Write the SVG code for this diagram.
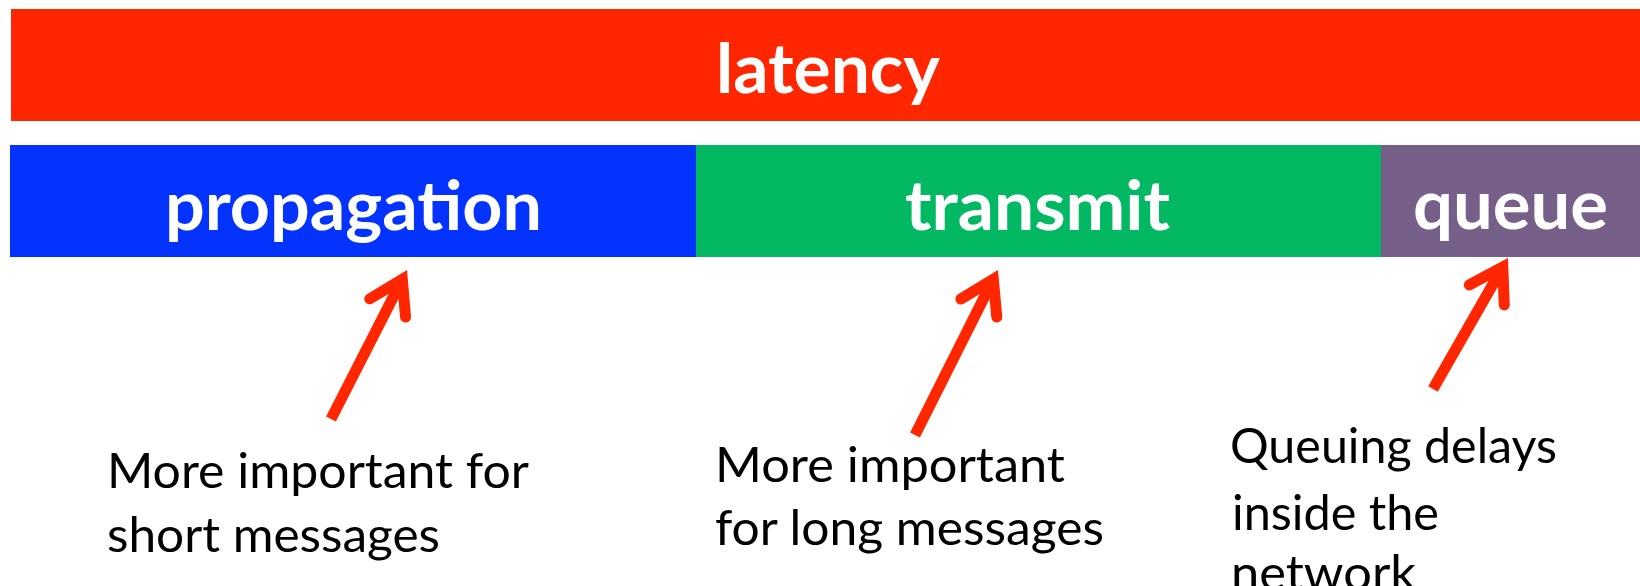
<svg xmlns="http://www.w3.org/2000/svg" width="1640" height="586" viewBox="0 0 1640 586">
  <style>
    .bar-label { font-family: Lato, "Open Sans", "Liberation Sans", sans-serif; font-weight: 700; font-size: 68px; fill: #ffffff; }
    .note { font-family: Lato, "Open Sans", "Liberation Sans", sans-serif; font-weight: 400; font-size: 48px; fill: #000000; }
    .arrow { fill: none; stroke: #ff2600; stroke-width: 11; stroke-linecap: butt; }
    .head { fill: none; stroke: #ff2600; stroke-width: 11; stroke-linecap: round; stroke-linejoin: miter; stroke-miterlimit: 10; }
  </style>
  <defs>
    <marker id="arrowhead" markerUnits="userSpaceOnUse" orient="auto" refX="0" refY="0" markerWidth="80" markerHeight="80" viewBox="-50 -40 80 80" overflow="visible">
      <path class="head" d="M -32.2 -20.1 L 0 0 L -32.2 20.1"/>
    </marker>
  </defs>

  <rect width="1640" height="586" fill="#ffffff"/>

  <!-- total latency bar -->
  <g id="latency">
    <rect x="11" y="9" width="1629" height="112" fill="#ff2600"/>
    <text class="bar-label" x="716" y="93" textLength="224" lengthAdjust="spacingAndGlyphs">latency</text>
  </g>

  <!-- component bars -->
  <g id="propagation">
    <rect x="10" y="145" width="686" height="112" fill="#0433ff"/>
    <text class="bar-label" x="165" y="230" textLength="377" lengthAdjust="spacingAndGlyphs">propagation</text>
  </g>
  <g id="transmit">
    <rect x="696" y="145" width="685" height="112" fill="#03b862"/>
    <text class="bar-label" x="905" y="230" textLength="265" lengthAdjust="spacingAndGlyphs">transmit</text>
  </g>
  <g id="queue">
    <rect x="1381" y="145" width="259" height="112" fill="#76608a"/>
    <text class="bar-label" x="1413" y="229" textLength="195" lengthAdjust="spacingAndGlyphs">queue</text>
  </g>

  <!-- annotation notes -->
  <g id="note-propagation">
    <text class="note" x="107" y="488" textLength="422" lengthAdjust="spacingAndGlyphs">More important for</text>
    <text class="note" x="107" y="552" textLength="333" lengthAdjust="spacingAndGlyphs">short messages</text>
  </g>
  <g id="note-transmit">
    <text class="note" x="715" y="482" textLength="350" lengthAdjust="spacingAndGlyphs">More important</text>
    <text class="note" x="715" y="545" textLength="389" lengthAdjust="spacingAndGlyphs">for long messages</text>
  </g>
  <g id="note-queue">
    <text class="note" x="1230" y="463" textLength="327" lengthAdjust="spacingAndGlyphs">Queuing delays</text>
    <text class="note" x="1232" y="530" textLength="207" lengthAdjust="spacingAndGlyphs">inside the</text>
    <text class="note" x="1231" y="590" textLength="185" lengthAdjust="spacingAndGlyphs">network</text>
  </g>

  <!-- pointer arrows -->
  <g id="connectors">
    <path class="arrow" d="M 331 419 L 402.3 279.3" marker-end="url(#arrowhead)"/>
    <path class="arrow" d="M 915 435 L 993.3 279.3" marker-end="url(#arrowhead)"/>
    <path class="arrow" d="M 1433 389 L 1502.8 267" marker-end="url(#arrowhead)"/>
  </g>
</svg>
